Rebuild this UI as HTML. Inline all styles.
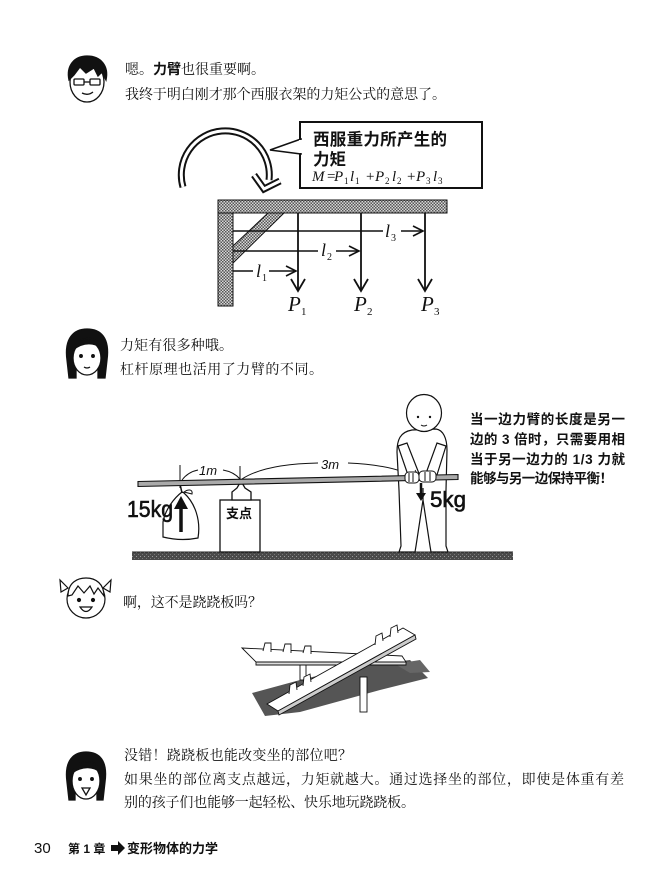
<!DOCTYPE html>
<html><head><meta charset="utf-8"><style>
html,body{margin:0;padding:0;background:#fff;}
svg{display:block;}
.b{font-family:"Liberation Serif","Noto Serif CJK SC",serif;font-size:14px;fill:#111;}
.s{font-family:"Liberation Sans","Noto Sans CJK SC",sans-serif;}
.it{font-family:"Liberation Serif",serif;font-style:italic;fill:#111;}
.hw{font-family:"Liberation Sans",sans-serif;fill:#111;}
</style></head><body>
<svg width="672" height="877" viewBox="0 0 672 877" xmlns="http://www.w3.org/2000/svg">
<defs>
<pattern id="h" width="3" height="3" patternUnits="userSpaceOnUse"><rect width="3" height="3" fill="#d8d8d8"/><rect width="1.5" height="1.5" fill="#555"/><rect x="1.5" y="1.5" width="1.5" height="1.5" fill="#555"/></pattern>
<pattern id="g" width="4" height="4" patternUnits="userSpaceOnUse"><rect width="4" height="4" fill="#4a4a4a"/><rect width="1" height="1" fill="#999"/><rect x="2" y="2" width="1" height="1" fill="#777"/></pattern>
</defs>

<!-- Face 1: man with glasses -->
<g stroke="#111" stroke-width="1.3" fill="#fff">
<ellipse cx="87" cy="82" rx="17" ry="20"/>
<path d="M69 80 C66 66,74 56,87 56 C101 56,109 66,106 80 L102 72 L98 76 L94 68 L86 73 L80 67 L74 75 Z" fill="#111"/>
<rect x="74" y="79" width="10" height="6" rx="1" fill="none"/>
<rect x="90" y="79" width="10" height="6" rx="1" fill="none"/>
<path d="M84 82 L90 82" fill="none"/>
<path d="M82 93 Q88 96 93 92" fill="none"/>
</g>

<text class="b" x="125" y="74">嗯。<tspan class="s" font-weight="bold">力臂</tspan>也很重要啊。</text>
<text class="b" x="125" y="99" textLength="321" lengthAdjust="spacing">我终于明白刚才那个西服衣架的力矩公式的意思了。</text>

<!-- Circular hollow arrow -->
<g fill="none" stroke-linecap="butt" stroke-linejoin="miter">
<path d="M183 187 A44 44 0 1 1 269 180" stroke="#111" stroke-width="7"/>
<path d="M183 187 A44 44 0 1 1 269 180" stroke="#fff" stroke-width="3"/>
<polyline points="254,175 264,189 280,181" stroke="#111" stroke-width="7"/>
<polyline points="254,175 264,189 280,181" stroke="#fff" stroke-width="3"/>
</g>

<!-- Callout -->
<rect x="300" y="122" width="182" height="66" fill="#fff" stroke="#111" stroke-width="2"/>
<polygon points="301,139 270,150 301,154" fill="#fff" stroke="#111" stroke-width="1.5"/>
<rect x="299" y="140" width="4" height="13" fill="#fff"/>
<text class="s" x="313" y="145" font-size="16.5" font-weight="bold" fill="#111" textLength="134" lengthAdjust="spacing">西服重力所产生的</text>
<text class="s" x="313" y="165" font-size="16.5" font-weight="bold" fill="#111">力矩</text>
<g class="it" font-size="15">
<text x="312" y="181">M</text><text x="327" y="181" font-style="normal">=</text>
<text x="334" y="181">P</text><text x="344" y="184" font-size="9" font-style="normal">1</text>
<text x="350" y="181">l</text><text x="355" y="184" font-size="9" font-style="normal">1</text>
<text x="366" y="181" font-style="normal">+</text>
<text x="375" y="181">P</text><text x="385" y="184" font-size="9" font-style="normal">2</text>
<text x="392" y="181">l</text><text x="397" y="184" font-size="9" font-style="normal">2</text>
<text x="407" y="181" font-style="normal">+</text>
<text x="416" y="181">P</text><text x="426" y="184" font-size="9" font-style="normal">3</text>
<text x="433" y="181">l</text><text x="438" y="184" font-size="9" font-style="normal">3</text>
</g>

<!-- Hanger frame -->
<rect x="218" y="200" width="229" height="13" fill="url(#h)" stroke="#111" stroke-width="1"/>
<rect x="218" y="213" width="15" height="93" fill="url(#h)" stroke="#111" stroke-width="1"/>
<polygon points="268,213 284,213 233,263 233,246" fill="url(#h)" stroke="#111" stroke-width="1"/>
<g stroke="#111" stroke-width="1.8" fill="none">
<line x1="298" y1="213" x2="298" y2="290"/>
<line x1="361" y1="213" x2="361" y2="290"/>
<line x1="425" y1="213" x2="425" y2="290"/>
<polyline points="291,279 298,291 305,279"/>
<polyline points="354,279 361,291 368,279"/>
<polyline points="418,279 425,291 432,279"/>
<line x1="233" y1="231" x2="383" y2="231" stroke-width="1.4"/>
<line x1="401" y1="231" x2="423" y2="231" stroke-width="1.4"/>
<polyline points="413,226 423,231 413,236" stroke-width="1.6"/>
<line x1="233" y1="251" x2="318" y2="251" stroke-width="1.4"/>
<line x1="336" y1="251" x2="359" y2="251" stroke-width="1.4"/>
<polyline points="349,246 359,251 349,256" stroke-width="1.6"/>
<line x1="233" y1="271" x2="253" y2="271" stroke-width="1.4"/>
<line x1="269" y1="271" x2="296" y2="271" stroke-width="1.4"/>
<polyline points="286,266 296,271 286,276" stroke-width="1.6"/>
</g>
<g class="it">
<text x="385" y="237" font-size="18">l</text><text x="391" y="241" font-size="10" font-style="normal">3</text>
<text x="321" y="256" font-size="18">l</text><text x="327" y="260" font-size="10" font-style="normal">2</text>
<text x="256" y="277" font-size="18">l</text><text x="262" y="281" font-size="10" font-style="normal">1</text>
<text x="288" y="311" font-size="21">P</text><text x="301" y="315" font-size="11" font-style="normal">1</text>
<text x="354" y="311" font-size="21">P</text><text x="367" y="315" font-size="11" font-style="normal">2</text>
<text x="421" y="311" font-size="21">P</text><text x="434" y="315" font-size="11" font-style="normal">3</text>
</g>

<!-- Face 2: woman -->
<g stroke="#111" stroke-width="1.3">
<path d="M67 360 C64 338,74 329,87 329 C101 329,110 338,107 360 L105 378 L98 378 L98 350 L76 350 L76 378 L69 378 Z" fill="#111"/>
<ellipse cx="87" cy="358" rx="14" ry="17" fill="#fff"/>
<path d="M73 350 C76 336,98 334,101 348 C95 343,84 341,73 350 Z" fill="#111"/>
<circle cx="81" cy="356" r="1.3" fill="#111"/>
<circle cx="93" cy="356" r="1.3" fill="#111"/>
<path d="M84 367 Q87 369 90 367" fill="none"/>
</g>

<text class="b" x="120" y="350" textLength="113" lengthAdjust="spacing">力矩有很多种哦。</text>
<text class="b" x="120" y="374" textLength="203" lengthAdjust="spacing">杠杆原理也活用了力臂的不同。</text>

<!-- Lever scene -->
<rect x="132" y="552" width="381" height="8" fill="url(#g)"/>
<line x1="132" y1="552" x2="513" y2="552" stroke="#222" stroke-width="1"/>

<!-- fulcrum -->
<rect x="220" y="500" width="40" height="52" fill="#fff" stroke="#111" stroke-width="1.3"/>
<path d="M232 500 L232 492 L237 488 L241 481 L245 488 L251 492 L251 500 Z" fill="#fff" stroke="#111" stroke-width="1.3"/>
<text class="s" x="226" y="518" font-size="13" font-weight="bold" fill="#111">支点</text>

<!-- ticks and arcs -->
<g stroke="#111" stroke-width="1" fill="none">
<line x1="180" y1="465" x2="180" y2="488"/>
<line x1="240" y1="466" x2="240" y2="481"/>
<path d="M182 480 Q188 472 198 470"/>
<path d="M223 470 Q234 472 240 479"/>
<path d="M242 479 Q265 464 318 463"/>
<path d="M348 463 Q395 465 416 478"/>
</g>
<text class="hw" x="199" y="475" font-size="13" font-style="italic">1m</text>
<text class="hw" x="321" y="469" font-size="13" font-style="italic">3m</text>

<!-- bag -->
<path d="M182 492 C174 498,165 510,163 522 L163 537 C175 540,188 540,198 538 C201 520,195 503,184 493 Z" fill="#fff" stroke="#111" stroke-width="1.2"/>
<path d="M184 492 C188 489,193 489,192 494 Z" fill="#fff" stroke="#111" stroke-width="1"/>
<line x1="180" y1="484" x2="182" y2="493" stroke="#111" stroke-width="1.5"/>
<line x1="181" y1="532" x2="181" y2="507" stroke="#111" stroke-width="3.5"/>
<polygon points="174,509 181,496 188,509" fill="#111"/>
<text class="hw" x="127" y="517" font-size="23" textLength="46" lengthAdjust="spacingAndGlyphs" stroke="#111" stroke-width="0.6">15kg</text>

<!-- person body -->
<g stroke="#111" stroke-width="1.2" fill="#fff">
<path d="M412 430 C400 432,397 440,397 452 L399 490 L401 546 L399 552 L415 552 L416 546 L423 500 L430 546 L431 552 L448 552 L446 546 L446 490 L447 450 C447 438,443 430,436 429 Z"/>
<line x1="423" y1="500" x2="423" y2="488"/>
<ellipse cx="424" cy="413" rx="17.5" ry="18.5"/>
<polygon points="398,446 407,443 420,476 409,478"/>
<polygon points="446,446 437,443 425,476 436,478"/>
</g>
<circle cx="418" cy="417" r="1.2" fill="#111"/>
<circle cx="430" cy="417" r="1.2" fill="#111"/>
<path d="M421 425 Q424 427 427 425" stroke="#111" fill="none" stroke-width="1"/>

<!-- bar -->
<polygon points="138,481.5 458,474.5 458,479.5 138,486.5" fill="#aaa" stroke="#111" stroke-width="1.1"/>
<line x1="415" y1="470" x2="418" y2="475" stroke="#111" stroke-width="0.8"/>

<!-- hands -->
<g stroke="#111" stroke-width="1" fill="#fff">
<rect x="405" y="472" width="14" height="11" rx="4"/>
<rect x="419" y="471" width="17" height="11" rx="4"/>
<line x1="409" y1="473" x2="409" y2="482"/>
<line x1="413" y1="473" x2="413" y2="482"/>
<line x1="425" y1="472" x2="425" y2="481"/>
<line x1="430" y1="472" x2="430" y2="481"/>
</g>
<line x1="421" y1="483" x2="421" y2="494" stroke="#111" stroke-width="2.5"/>
<polygon points="416,493 421,501 426,493" fill="#111"/>
<text class="hw" x="430" y="507" font-size="22" textLength="36" lengthAdjust="spacingAndGlyphs" stroke="#111" stroke-width="0.6">5kg</text>

<!-- right explanation text -->
<g class="s" font-size="13.5" fill="#111" font-weight="bold">
<text x="470" y="424" textLength="155" lengthAdjust="spacing">当一边力臂的长度是另一</text>
<text x="470" y="444" textLength="155" lengthAdjust="spacing">边的 3 倍时，只需要用相</text>
<text x="470" y="464" textLength="155" lengthAdjust="spacing">当于另一边力的 1/3 力就</text>
<text x="470" y="483" textLength="143" lengthAdjust="spacing">能够与另一边保持平衡！</text>
</g>

<!-- Face 3: girl with pigtails -->
<g stroke="#111" stroke-width="1.2">
<path d="M68 588 L60 580 L61 592 Z" fill="#fff"/>
<path d="M103 588 L111 580 L110 592 Z" fill="#fff"/>
<circle cx="86" cy="599" r="19" fill="#fff"/>
<path d="M68 596 C68 582,78 578,86 578 C96 578,104 584,104 596 L98 588 L94 594 L90 586 L84 593 L78 586 L72 595 Z" fill="#fff"/>
<circle cx="79" cy="600" r="1.5" fill="#111"/>
<circle cx="93" cy="600" r="1.5" fill="#111"/>
<path d="M80 607 Q86 616 92 607 Z" fill="#fff"/>
</g>
<text class="b" x="123" y="607" textLength="139" lengthAdjust="spacing">啊，这不是跷跷板吗？</text>

<!-- Seesaw -->
<polygon points="252,693 300,680 350,668 410,660 428,678 380,690 300,712 265,716" fill="#555"/>
<polygon points="395,664 420,660 430,672 410,673" fill="#666"/>
<g stroke="#111" stroke-width="0.9" fill="#fff">
<rect x="300" y="661" width="6" height="19"/>
<polygon points="242,648 402,656 406,662 256,662"/>
<polygon points="256,662 406,662 406,665 256,665" fill="#ddd"/>
<path d="M263 651 l2 -8 l6 0 l0 9"/>
<path d="M283 652 l2 -8 l6 0 l0 9"/>
<path d="M303 653 l2 -7 l6 0 l0 8"/>
<rect x="360" y="677" width="7" height="35"/>
<polygon points="267,704 403,628 415,635 278,711"/>
<polygon points="278,711 415,635 416,639 279,715" fill="#ccc"/>
<path d="M375 645 l1 -9 l6 -3 l1 8"/>
<path d="M390 637 l1 -9 l6 -3 l1 8"/>
<path d="M303 686 l1 -9 l6 -3 l1 8"/>
<path d="M289 694 l1 -9 l6 -3 l1 8"/>
</g>

<!-- Face 4 -->
<g stroke="#111" stroke-width="1.3">
<path d="M67 782 C64 760,74 752,86 752 C99 752,108 760,105 782 L103 800 L97 800 L97 774 L75 774 L75 800 L69 800 Z" fill="#111"/>
<ellipse cx="86" cy="781" rx="14" ry="18" fill="#fff"/>
<path d="M72 773 C76 759,97 757,100 772 C94 767,83 765,72 773 Z" fill="#111"/>
<circle cx="80" cy="779" r="1.3" fill="#111"/>
<circle cx="92" cy="779" r="1.3" fill="#111"/>
<path d="M82 788 L90 788 L86 795 Z" fill="#fff"/>
</g>

<text class="b" x="124" y="760" textLength="228" lengthAdjust="spacing">没错！跷跷板也能改变坐的部位吧？</text>
<text class="b" x="124" y="784" textLength="500" lengthAdjust="spacing">如果坐的部位离支点越远，力矩就越大。通过选择坐的部位，即使是体重有差</text>
<text class="b" x="124" y="807" textLength="291" lengthAdjust="spacing">别的孩子们也能够一起轻松、快乐地玩跷跷板。</text>

<!-- Footer -->
<text class="s" x="34" y="853" font-size="15" fill="#111">30</text>
<text class="s" x="68" y="853" font-size="12" font-weight="bold" fill="#111">第 1 章</text>
<path d="M111 845 L118 845 L118 841 L125 848 L118 855 L118 851 L111 851 Z" fill="#111"/>
<text class="s" x="127" y="853" font-size="13" font-weight="bold" fill="#111" textLength="91" lengthAdjust="spacing">变形物体的力学</text>
</svg>
</body></html>
